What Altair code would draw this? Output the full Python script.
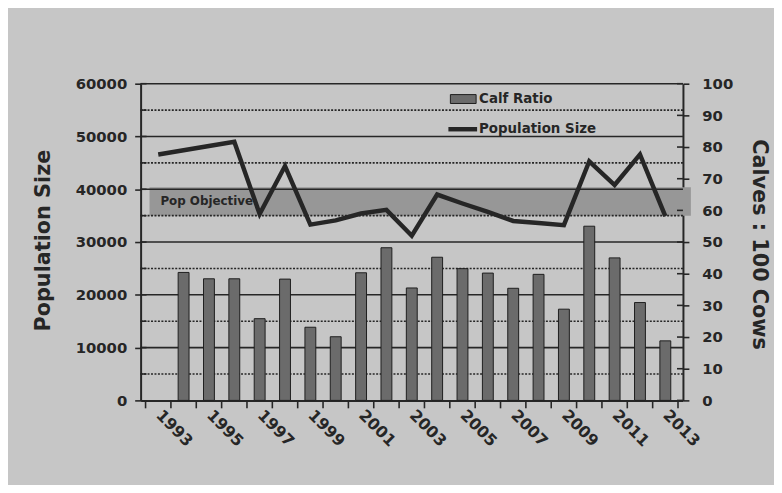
import altair as alt
import pandas as pd

# ---- data ----
years = list(range(1993, 2014))
population = [46600, 47400, 48200, 49000, 35300, 44400, 33300, 34100, 35400, 36100,
              31200, 39000, 37300, 35700, 34000, 33600, 33200, 45300, 40800, 46600, 34900]
calf_years = list(range(1994, 2014))
calf_ratio = [40.4, 38.4, 38.4, 25.8, 38.3, 23.1, 20.1, 40.3, 48.2, 35.5,
              45.2, 41.6, 40.2, 35.4, 39.8, 28.8, 55.0, 45.0, 30.9, 18.8]
label_years = list(range(1993, 2014, 2))
pop_ticks = list(range(0, 60001, 10000))
calf_ticks = list(range(0, 101, 10))
grid_major = list(range(10000, 60001, 10000))
grid_minor = list(range(5000, 60000, 10000))
objective = [35000, 40400]
boundaries = [1992.5 + i for i in range(22)]

W, H = 548, 320
FONT = "DejaVu Sans"
INK = "#262626"

pop_df = pd.DataFrame({"year": years, "pop": population})
calf_df = pd.DataFrame({"year": calf_years, "calf": calf_ratio})
one = pd.DataFrame({"k": [0]})

xscale = alt.Scale(domain=[1992.5, 2013.5], nice=False, zero=False)
pop_scale = alt.Scale(domain=[0, 60000], nice=False, zero=True)
calf_scale = alt.Scale(domain=[0, 100], nice=False, zero=True)

x_axis = alt.Axis(
    values=label_years, format="d", labelAngle=45, labelAlign="left",
    labelBaseline="middle", labelPadding=12, labelFontSize=16, ticks=False, grid=False,
    title=None, labelFlush=False, labelOverlap=False)
calf_axis = alt.Axis(
    orient="right", values=calf_ticks, title="Calves : 100 Cows", grid=False,
    tickSize=6, labelPadding=13, titleX=76, titleY=162, titleAngle=90,
    titleAlign="center", titleBaseline="middle")
pop_axis = alt.Axis(
    orient="left", values=pop_ticks, format="d", title="Population Size", grid=False,
    tickSize=6, labelPadding=8, titleX=-98, titleY=158, titleAngle=-90,
    titleAlign="center", titleBaseline="middle")

# background layer: objective band + gridlines (own copy of the population scale)
band = alt.Chart(pd.DataFrame({"lo": [objective[0]], "hi": [objective[1]]})).mark_rect(
    color="#979797"
).encode(
    x=alt.value(9), x2=alt.value(556),
    y=alt.Y("lo:Q", scale=pop_scale, axis=None), y2="hi:Q",
)
g_major = alt.Chart(pd.DataFrame({"v": grid_major})).mark_rule(color=INK, strokeWidth=1.6).encode(
    y=alt.Y("v:Q", scale=pop_scale, axis=None)
)
g_minor = alt.Chart(pd.DataFrame({"v": grid_minor})).mark_rule(
    color=INK, strokeWidth=1.6, strokeDash=[2, 1.5]
).encode(y=alt.Y("v:Q", scale=pop_scale, axis=None))
left_in = alt.Chart(pd.DataFrame({"v": grid_major + grid_minor})).mark_rule(
    color=INK, strokeWidth=1.6
).encode(x=alt.value(0), x2=alt.value(6), y=alt.Y("v:Q", scale=pop_scale, axis=None))
back = alt.layer(band, g_major, g_minor, left_in)

# calf ratio bars (right axis)
bars = alt.Chart(calf_df).mark_bar(size=11, color="#6b6b6b", stroke="#1e1e1e", strokeWidth=1).encode(
    x=alt.X("year:Q", scale=xscale, axis=x_axis),
    y=alt.Y("calf:Q", scale=calf_scale, axis=calf_axis),
)
right_in = alt.Chart(pd.DataFrame({"calf": calf_ticks})).mark_rule(color=INK, strokeWidth=1.6).encode(
    x=alt.value(W - 6), x2=alt.value(W), y=alt.Y("calf:Q", scale=calf_scale, axis=calf_axis)
)
bar_group = alt.layer(bars, right_in)

# population line (left axis)
line = alt.Chart(pop_df).mark_line(color=INK, strokeWidth=4.5, strokeJoin="miter").encode(
    x=alt.X("year:Q", scale=xscale, axis=x_axis),
    y=alt.Y("pop:Q", scale=pop_scale, axis=pop_axis),
)

bottom_ticks = alt.Chart(pd.DataFrame({"year": boundaries})).mark_rule(color=INK, strokeWidth=1.6).encode(
    x=alt.X("year:Q", scale=xscale, axis=x_axis), y=alt.value(H), y2=alt.value(H + 8)
)

# annotations and legend
txt = dict(font=FONT, fontWeight="bold", color=INK, align="left", baseline="middle")
pop_obj = alt.Chart(pd.DataFrame({"t": ["Pop Objective"]})).mark_text(fontSize=12, **txt).encode(
    x=alt.value(20), y=alt.value(119), text="t:N")
leg_rect = alt.Chart(one).mark_rect(color="#6b6b6b", stroke="#1e1e1e", strokeWidth=1).encode(
    x=alt.value(313), x2=alt.value(339), y=alt.value(11), y2=alt.value(20))
leg_rect_t = alt.Chart(pd.DataFrame({"t": ["Calf Ratio"]})).mark_text(fontSize=13.5, **txt).encode(
    x=alt.value(342), y=alt.value(15), text="t:N")
leg_line = alt.Chart(one).mark_rule(color=INK, strokeWidth=4.5).encode(
    x=alt.value(311), x2=alt.value(340), y=alt.value(46))
leg_line_t = alt.Chart(pd.DataFrame({"t": ["Population Size"]})).mark_text(fontSize=13.5, **txt).encode(
    x=alt.value(342), y=alt.value(46), text="t:N")

chart = alt.layer(
    back, bar_group, line, bottom_ticks, pop_obj, leg_rect, leg_rect_t, leg_line, leg_line_t
).resolve_scale(y="independent").properties(
    width=W, height=H,
    padding={"left": 134, "top": 74, "right": 92, "bottom": 83},
    autosize=alt.AutoSizeParams(type="none"),
    background="#c6c6c6",
).configure_axis(
    labelFont=FONT, labelFontWeight="bold", labelFontSize=15, labelColor=INK,
    titleFont=FONT, titleFontWeight="bold", titleFontSize=21, titleColor=INK,
    domainColor=INK, domainWidth=2, tickColor=INK, tickWidth=1.6,
).configure_view(stroke=None)

chart.save("out.html", embed_options={"renderer": "svg", "actions": False})
